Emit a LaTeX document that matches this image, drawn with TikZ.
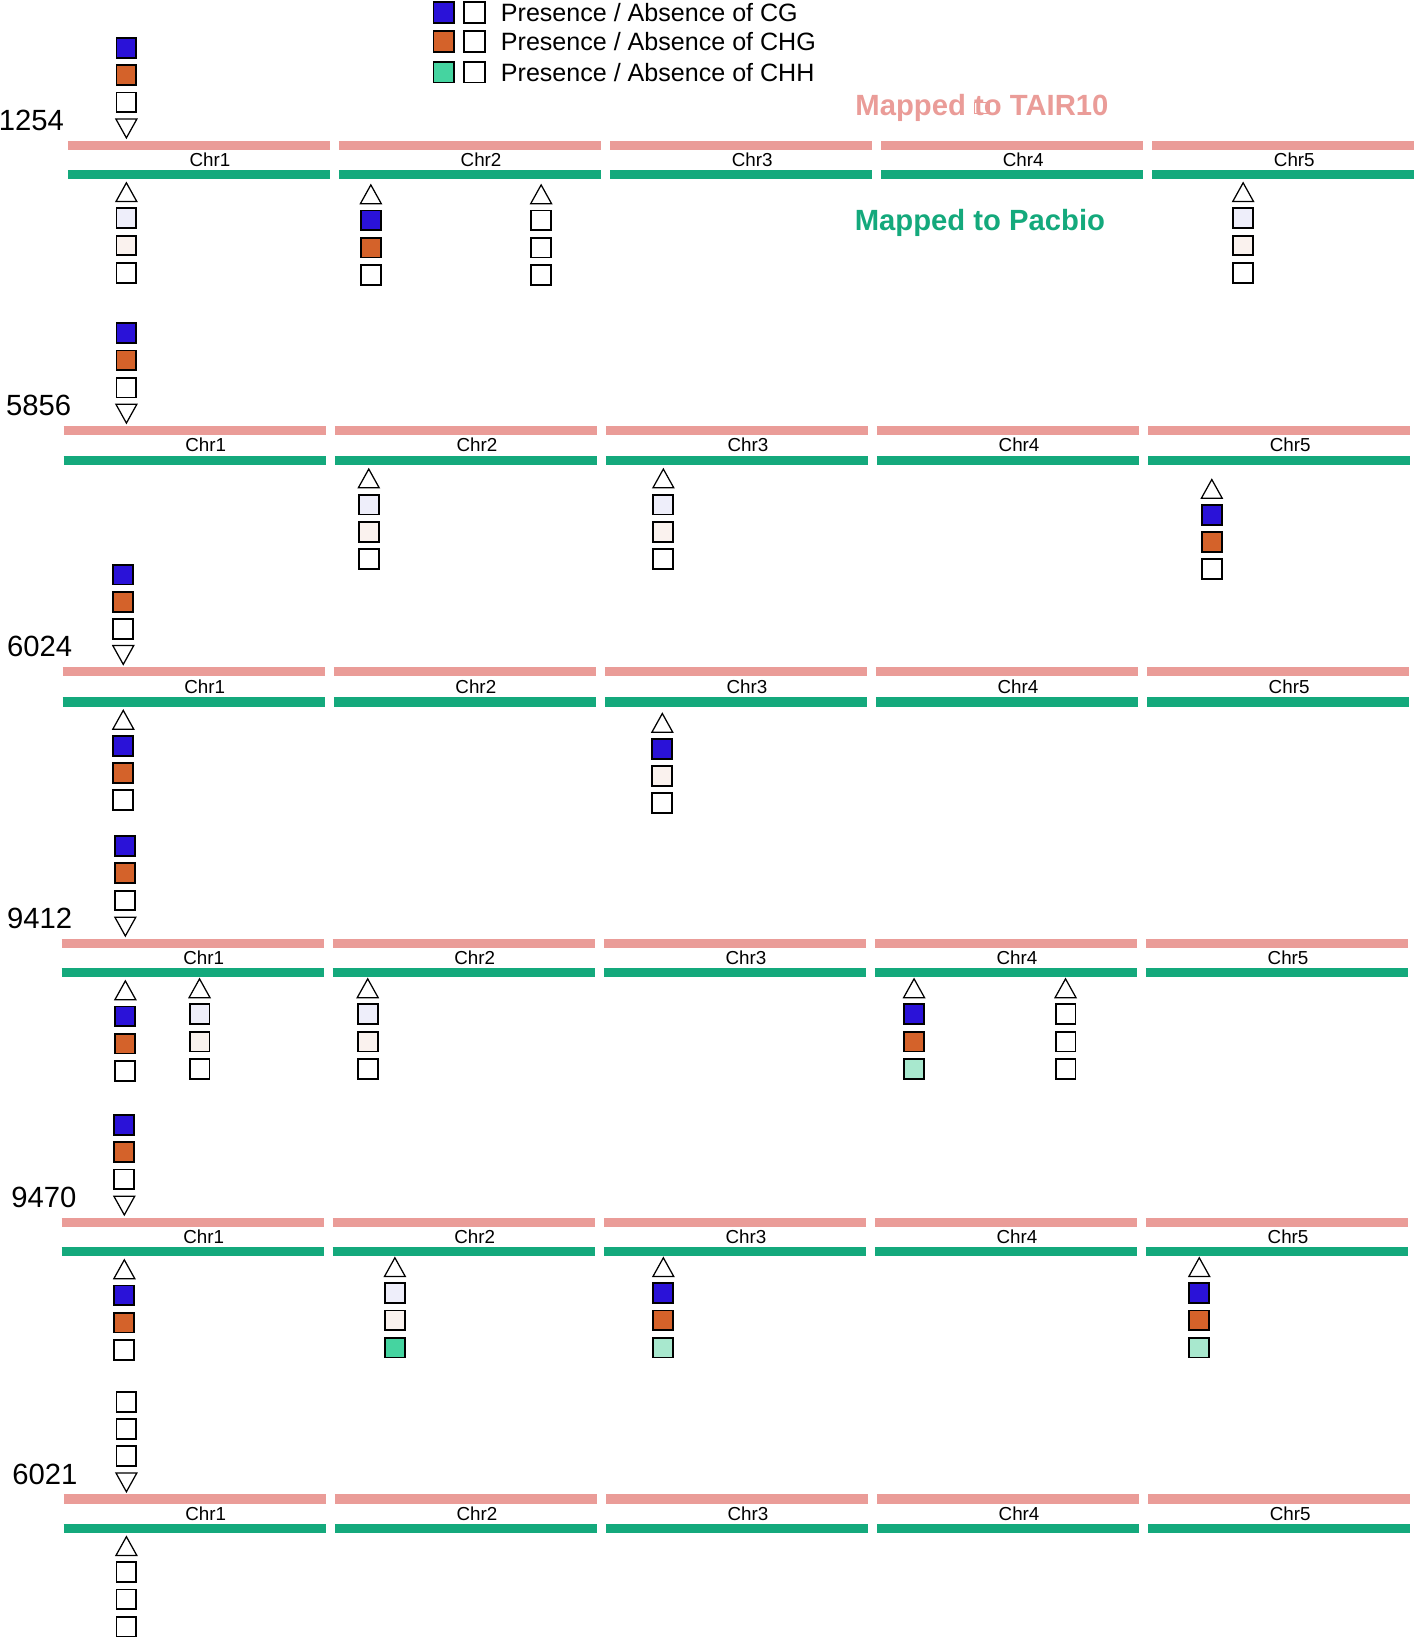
\documentclass[tikz,border=0pt]{standalone}
\usepackage{fontspec}
\setmainfont{Liberation Sans}
\definecolor{cgb}{HTML}{2A12D8}
\definecolor{chg}{HTML}{D4622A}
\definecolor{chh}{HTML}{45D4A0}
\definecolor{mint}{HTML}{A8E8CE}
\definecolor{lav}{HTML}{EEEEFA}
\definecolor{pch}{HTML}{FAF2EE}
\definecolor{pinkbar}{HTML}{EA9C98}
\definecolor{greenbar}{HTML}{14A97C}
\tikzset{sq/.style={draw=black,line width=1.8pt,minimum size=19pt,inner sep=0pt},
 tri/.style={draw=black,line width=1.2pt,fill=white},
 pbar/.style={pinkbar,line width=9pt},
 gbar/.style={greenbar,line width=9pt},
 chr/.style={font=\fontsize{18}{20}\selectfont},
 lab/.style={font=\fontsize{28}{30}\selectfont}}
\newcommand{\upstack}[5]{% x, pinky, c1,c2,c3 (top to bottom)
 \node[sq,fill=#3] at (#1,#2-93) {};
 \node[sq,fill=#4] at (#1,#2-67) {};
 \node[sq,fill=#5] at (#1,#2-41) {};
 \draw[tri] (#1-10,#2-25) -- (#1+10,#2-25) -- (#1,#2-7) -- cycle;}
\newcommand{\downstack}[5]{% x, greeny, c1,c2,c3
 \draw[tri] (#1-10,#2+26) -- (#1+10,#2+26) -- (#1,#2+8) -- cycle;
 \node[sq,fill=#3] at (#1,#2+42) {};
 \node[sq,fill=#4] at (#1,#2+68) {};
 \node[sq,fill=#5] at (#1,#2+94) {};}
\newcommand{\chrrow}[5]{% x0, pinky, greeny, name, namex
 \foreach \i in {1,...,5}{
  \pgfmathsetmacro{\xa}{#1+(\i-1)*259.5}
  \draw[pbar] (\xa,#2) -- (\xa+251,#2);
  \draw[gbar] (\xa,#3) -- (\xa+251,#3);
  \node[chr] (c\i) at (\xa+136,#2+14) {Chr\i};}
 \node[lab] at (#5,#2-24) {#4};}
\begin{document}
\begin{tikzpicture}[x=1pt,y=-1pt]
\useasboundingbox (0,0) rectangle (1360,1568);
% legend
\foreach \c/\y/\t in {cgb/12/CG,chg/40/CHG,chh/69/CHH}{
 \node[sq,fill=\c,minimum size=20pt] at (425,\y) {};
 \node[sq,fill=white,minimum size=20pt] at (454,\y) {};
 \node[anchor=west,font=\fontsize{24}{26}\selectfont] at (476,\y) {Presence / Absence of \t};}
\node[font=\fontsize{28}{30}\selectfont\bfseries,text=pinkbar!85!white,draw=pinkbar,line width=0.3pt] (tair) at (940,103) {\phantom{.}};
\node[font=\fontsize{28}{30}\selectfont\bfseries,text=pinkbar] at (940,103) {Mapped to TAIR10};
\node[font=\fontsize{28}{30}\selectfont\bfseries,text=greenbar] at (938,213) {Mapped to Pacbio};
% rows
\chrrow{65}{139}{167}{1254}{30}
\upstack{121}{139}{cgb}{chg}{white}
\downstack{121}{167}{lav}{pch}{white}
\downstack{355}{169}{cgb}{chg}{white}
\downstack{518}{169}{white}{white}{white}
\downstack{1190}{167}{lav}{pch}{white}

\chrrow{61}{412}{441}{5856}{37}
\upstack{121}{412}{cgb}{chg}{white}
\downstack{353}{441}{lav}{pch}{white}
\downstack{635}{441}{lav}{pch}{white}
\downstack{1160}{451}{cgb}{chg}{white}

\chrrow{60}{643}{672}{6024}{38}
\upstack{118}{643}{cgb}{chg}{white}
\downstack{118}{672}{cgb}{chg}{white}
\downstack{634}{675}{cgb}{pch}{white}

\chrrow{59}{903}{931}{9412}{38}
\upstack{120}{903}{cgb}{chg}{white}
\downstack{120}{931}{cgb}{chg}{white}
\downstack{191}{929}{lav}{pch}{white}
\downstack{352}{929}{lav}{pch}{white}
\downstack{875}{929}{cgb}{chg}{mint}
\downstack{1020}{929}{white}{white}{white}

\chrrow{59}{1170}{1198}{9470}{42}
\upstack{119}{1170}{cgb}{chg}{white}
\downstack{119}{1198}{cgb}{chg}{white}
\downstack{378}{1196}{lav}{pch}{chh}
\downstack{635}{1196}{cgb}{chg}{mint}
\downstack{1148}{1196}{cgb}{chg}{mint}

\chrrow{61}{1435}{1463}{6021}{43}
\upstack{121}{1435}{white}{white}{white}
\downstack{121}{1463}{white}{white}{white}
\end{tikzpicture}
\end{document}
